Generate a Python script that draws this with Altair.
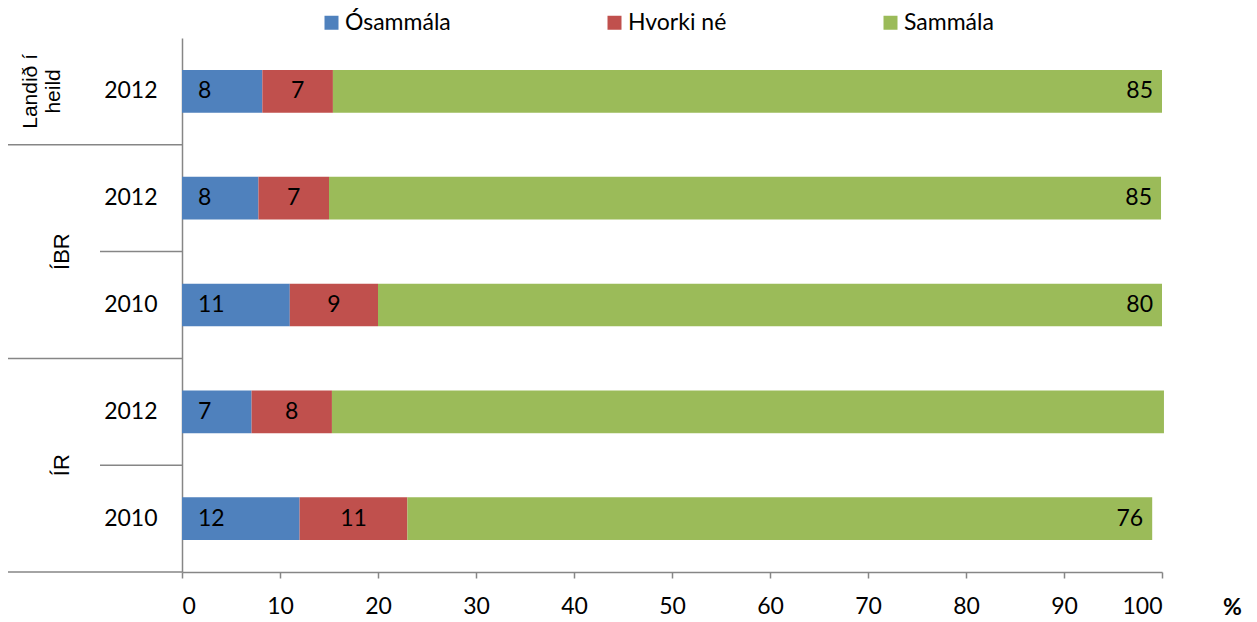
import altair as alt
import pandas as pd

# ---- data ----
groups = ["Landið í heild", "ÍBR", "ÍBR", "ÍR", "ÍR"]
years = ["2012", "2012", "2010", "2012", "2010"]
categories = ["Ósammála", "Hvorki né", "Sammála"]
colors = ["#4F81BD", "#C0504D", "#9BBB59"]

osammala = [8.2, 7.8, 11.0, 7.1, 12.0]
hvorki = [7.2, 7.2, 9.0, 8.2, 11.0]
sammala = [84.6, 84.9, 80.0, 84.9, 76.0]

osammala_lbl = ["8", "8", "11", "7", "12"]
hvorki_lbl = ["7", "7", "9", "8", "11"]
sammala_lbl = ["85", "85", "80", "", "76"]

x_ticks = [0, 10, 20, 30, 40, 50, 60, 70, 80, 90, 100]

# ---- build table ----
rows = [f"{g}|{y}" for g, y in zip(groups, years)]
records = []
for i, r in enumerate(rows):
    for k, (cat, vals, lbls) in enumerate(zip(categories,
                                              [osammala, hvorki, sammala],
                                              [osammala_lbl, hvorki_lbl, sammala_lbl])):
        records.append({"row": r, "group": groups[i], "year": years[i],
                        "cat": cat, "order": k, "value": vals[i], "label": lbls[i]})
df = pd.DataFrame(records)

row_df = pd.DataFrame({"row": rows, "group": groups, "year": years,
                       "idx": list(range(len(rows)))})

FONT = "Lato"
FS = 23
GRAY = "#868686"
H = 534
STEP = H / len(rows)
HALF_GAP = 0.3 * STEP  # distance from bar edge to category boundary


def Y(band=0.5):
    return alt.Y(
        "row:N",
        bandPosition=band,
        scale=alt.Scale(domain=rows, paddingInner=0.6, paddingOuter=0.3),
        axis=alt.Axis(
            title=None,
            labelExpr="split(datum.label, '|')[1]",
            ticks=False,
            labelPadding=25,
            labelFont=FONT,
            labelFontSize=FS,
            labelColor="black",
            domainColor=GRAY,
            domainWidth=1.5,
        ),
    )


xscale = alt.Scale(domain=[0, 100], nice=False)

base = alt.Chart(df).transform_stack(
    stack="value", groupby=["row"], as_=["x0", "x1"],
    sort=[alt.SortField("order", order="ascending")],
)

bars = base.mark_bar(size=0.4 * STEP).encode(
    x=alt.X(
        "x0:Q",
        scale=xscale,
        axis=alt.Axis(
            values=x_ticks,
            grid=False,
            tickSize=6,
            tickColor=GRAY,
            tickWidth=1.5,
            domainColor=GRAY,
            domainWidth=1.5,
            labelFont=FONT,
            labelFontSize=FS,
            labelColor="black",
            labelPadding=17,
            title="%",
            titleFont=FONT,
            titleFontSize=FS,
            titleFontWeight="bold",
            titleColor="black",
            titleX=1050,
            titleY=35,
            titleAlign="center",
            titleBaseline="middle",
        ),
    ),
    x2="x1:Q",
    y=Y(),
    color=alt.Color(
        "cat:N",
        scale=alt.Scale(domain=categories, range=colors),
        legend=alt.Legend(
            title=None,
            orient="none",
            direction="horizontal",
            legendX=138,
            legendY=-27,
            symbolType="square",
            symbolSize=196,
            symbolStrokeWidth=0,
            symbolOpacity=1,
            labelFont=FONT,
            labelFontSize=FS,
            labelColor="black",
            labelOffset=2,
            columnPadding=152,
        ),
    ),
    order=alt.Order("order:Q"),
)

lbl_common = dict(font=FONT, fontSize=FS, color="black", baseline="middle")

lbl_blue = base.transform_filter(alt.datum.order == 0).mark_text(
    align="left", dx=16, **lbl_common
).encode(x=alt.X("x0:Q", scale=xscale), y=Y(), text="label:N")

lbl_red = base.transform_filter(alt.datum.order == 1).transform_calculate(
    mid="(datum.x0 + datum.x1) / 2"
).mark_text(align="center", **lbl_common).encode(
    x=alt.X("mid:Q", scale=xscale), y=Y(), text="label:N"
)

lbl_green = base.transform_filter(alt.datum.order == 2).mark_text(
    align="right", dx=-9, **lbl_common
).encode(x=alt.X("x1:Q", scale=xscale), y=Y(), text="label:N")

rowbase = alt.Chart(row_df)

full_div = rowbase.transform_filter(
    "datum.idx == 0 || datum.idx == 2 || datum.idx == 4"
).mark_rule(color=GRAY, strokeWidth=1.5, yOffset=HALF_GAP).encode(
    y=Y(1.0), x=alt.value(-174), x2=alt.value(0)
)

short_div = rowbase.transform_filter(
    "datum.idx == 1 || datum.idx == 3"
).mark_rule(color=GRAY, strokeWidth=1.5, yOffset=HALF_GAP).encode(
    y=Y(1.0), x=alt.value(-82), x2=alt.value(0)
)

landid = rowbase.transform_filter("datum.idx == 0").transform_calculate(
    glabel="['Landið í', 'heild']"
).mark_text(
    angle=270, align="center", baseline="middle", font="Liberation Sans",
    fontSize=21, color="black", lineHeight=23,
).encode(y=Y(0.5), x=alt.value(-151), text="glabel:N")

grp = rowbase.transform_filter("datum.idx == 1 || datum.idx == 3").mark_text(
    angle=270, align="center", baseline="middle", font="Liberation Sans",
    fontSize=22, color="black", yOffset=HALF_GAP,
).encode(y=Y(1.0), x=alt.value(-120), text="group:N")

chart = alt.layer(
    bars, lbl_blue, lbl_red, lbl_green, full_div, short_div, landid, grp
).properties(
    width=980,
    height=H,
    autosize=alt.AutoSizeParams(type="none"),
    padding={"left": 174, "top": 30, "right": 87, "bottom": 50},
).configure_view(stroke=None)

chart.save("out.html", embed_options={"renderer": "svg", "actions": False})
